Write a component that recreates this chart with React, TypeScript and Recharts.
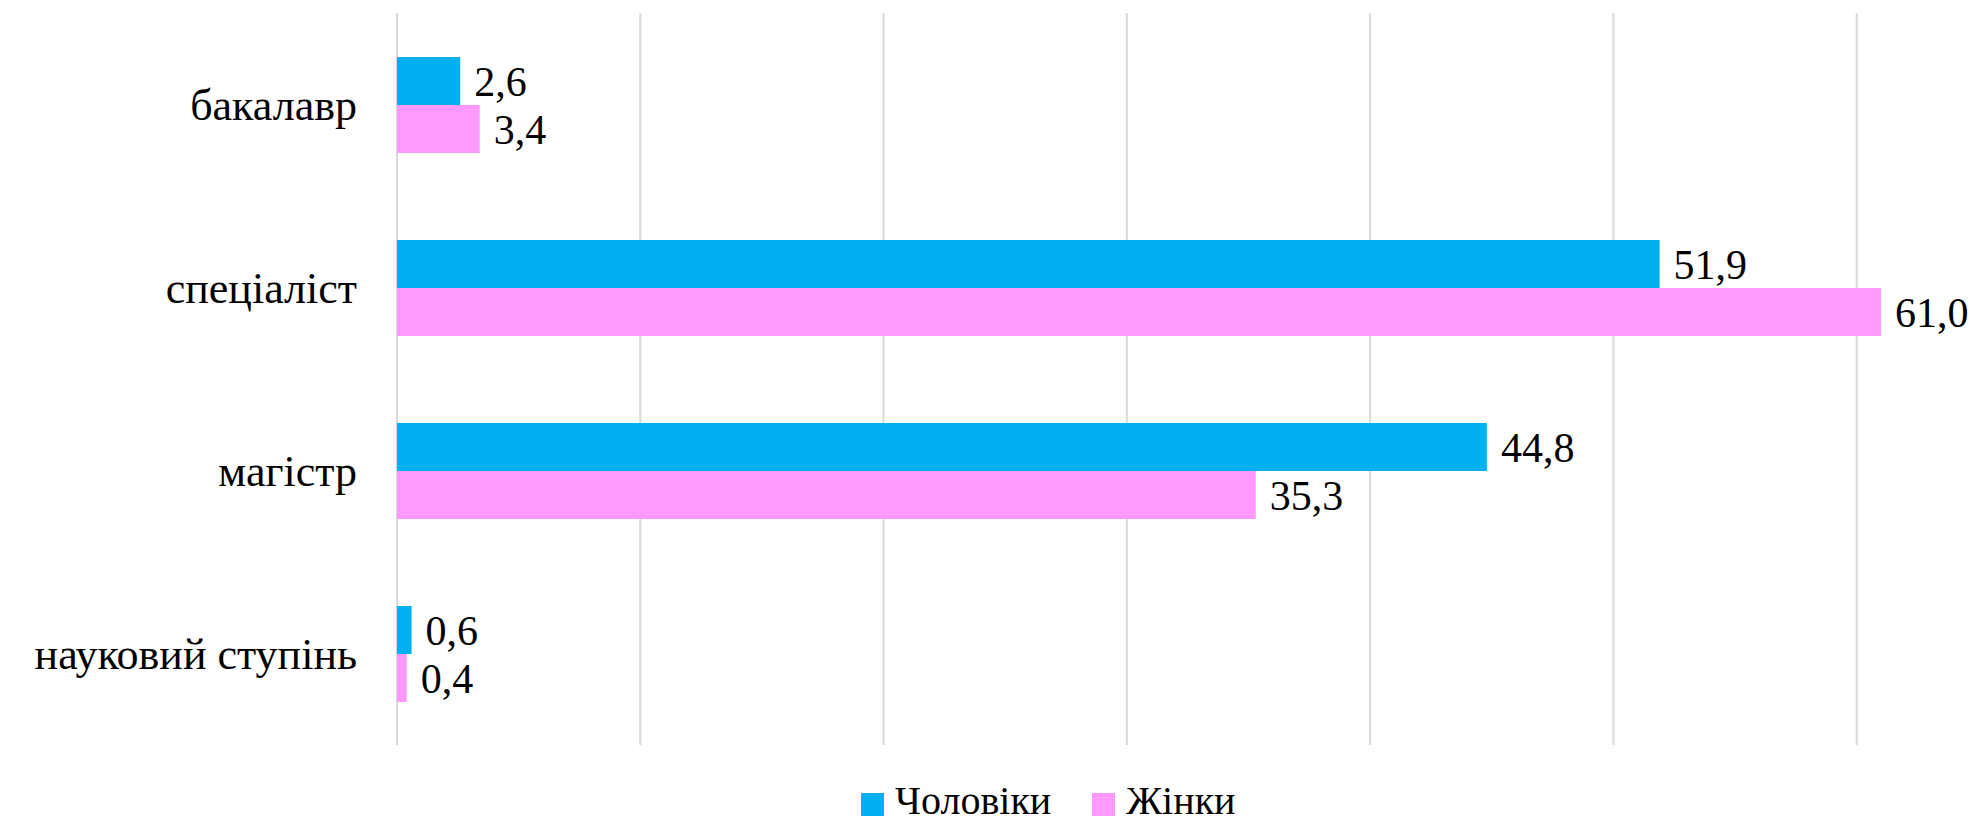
import { BarChart, Bar, XAxis, YAxis, CartesianGrid, LabelList } from 'recharts';

const categories = ['бакалавр', 'спеціаліст', 'магістр', 'науковий ступінь'];
const men = [2.6, 51.9, 44.8, 0.6];
const women = [3.4, 61.0, 35.3, 0.4];
const xTicks = [0, 10, 20, 30, 40, 50, 60];

const seriesNames = ['Чоловіки', 'Жінки'];
const seriesColors = ['#00B0F0', '#FF99FF'];

const FONT = 'Liberation Serif, Tinos, Times New Roman, DejaVu Serif, serif';

const data = categories.map((name, i) => ({ name, men: men[i], women: women[i] }));

const fmt = (v: number) => v.toFixed(1).replace('.', ',');

export default function App() {
  return (
    <div style={{ position: 'absolute', left: 0, top: 0, width: 1975, height: 823, background: '#fff', fontFamily: FONT }}>
      <BarChart
        width={1975}
        height={823}
        data={data}
        layout="vertical"
        margin={{ top: 13, right: 94, bottom: 78, left: 0 }}
        barGap={0}
        barSize={48}
      >
        <CartesianGrid horizontal={false} verticalValues={xTicks} stroke="#D9D9D9" strokeWidth={2} />
        <XAxis type="number" domain={[0, 61]} ticks={xTicks} interval={0} hide />
        <YAxis
          type="category"
          dataKey="name"
          width={397}
          axisLine={false}
          tickLine={false}
          tickSize={0}
          tickMargin={40}
          tick={{ fontSize: 44, fill: '#000', fontFamily: FONT }}
        />
        <Bar dataKey="men" name={seriesNames[0]} fill={seriesColors[0]} isAnimationActive={false}>
          <LabelList
            dataKey="men"
            position="right"
            offset={14}
            formatter={(v: number) => fmt(v)}
            fontFamily={FONT}
            fontSize={42}
            fill="#000"
          />
        </Bar>
        <Bar dataKey="women" name={seriesNames[1]} fill={seriesColors[1]} isAnimationActive={false}>
          <LabelList
            dataKey="women"
            position="right"
            offset={14}
            formatter={(v: number) => fmt(v)}
            fontFamily={FONT}
            fontSize={42}
            fill="#000"
          />
        </Bar>
      </BarChart>
      <div
        style={{
          position: 'absolute',
          left: 861,
          top: 778,
          display: 'flex',
          fontFamily: FONT,
          fontSize: 40,
          color: '#000',
          lineHeight: '45px',
          height: 45,
        }}
      >
        {seriesNames.map((n, i) => (
          <div key={n} style={{ display: 'flex', alignItems: 'flex-start', marginRight: 41 }}>
            <span
              style={{
                width: 23,
                height: 23,
                marginTop: 15,
                background: seriesColors[i],
                marginRight: 11,
                display: 'inline-block',
              }}
            />
            <span>{n}</span>
          </div>
        ))}
      </div>
    </div>
  );
}
